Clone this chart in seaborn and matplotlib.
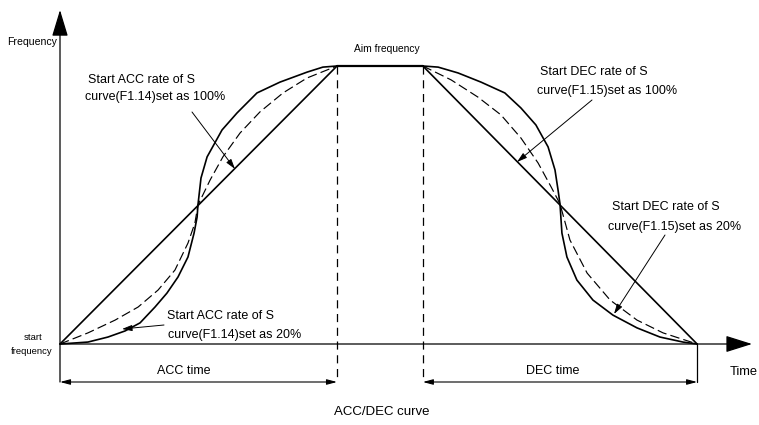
import matplotlib
matplotlib.use("Agg")
import matplotlib.pyplot as plt
import seaborn as sns

sns.set_theme(style="white")
plt.rcParams['font.family'] = ['Liberation Sans', 'DejaVu Sans']

# ---------------- data (time units, frequency %) ----------------
acc_end = 100
dec_start = 131
dec_end = 230
aim_freq = 100

acc_lin_t = [0, 100]
acc_lin_f = [0, 100]

acc_s20_t = [0, 10.1, 17.3, 23.5, 28.9, 34.3, 38.6, 42.6, 46.2, 48.4, 49.5, 49.8,
             50.9, 53.1, 58.5, 63.9, 71.1, 79.4, 89.2, 94.9, 100]
acc_s20_f = [0, 0.7, 2.5, 4.7, 7.6, 13.3, 18.3, 24.1, 31.3, 39.9, 45.7, 50.0,
             59.7, 67.3, 77.0, 83.1, 90.3, 94.2, 97.8, 99.6, 100]

acc_mid_t = [0, 10.1, 19.9, 28.2, 35.4, 41.5, 46.2, 48.7, 49.8, 54.2, 58.8, 65.0,
             72.2, 80.5, 89.2, 100]
acc_mid_f = [0, 4.0, 8.6, 13.3, 19.4, 26.6, 36.3, 43.5, 50.0, 59.0, 67.3, 75.9,
             83.5, 90.3, 95.7, 100]

dec_lin_t = [131, 230]
dec_lin_f = [100, 0]

dec_s20_t = [131, 136.5, 143.7, 152.0, 160.6, 166.4, 171.8, 176.2, 178.7, 179.8, 180.5,
             181.2, 183.0, 186.6, 192.4, 199.6, 208.3, 216.6, 224.9, 230]
dec_s20_f = [100, 99.6, 97.5, 94.2, 90.3, 84.9, 78.8, 70.9, 62.6, 55.4, 50.4,
             39.9, 31.3, 23.0, 15.8, 10.4, 5.8, 2.5, 0.7, 0]

dec_mid_t = [131, 141.2, 150.9, 159.2, 166.4, 172.6, 177.3, 180.5, 184.1, 190.3, 198.6,
             208.3, 217.7, 230]
dec_mid_f = [100, 95.0, 88.8, 82.4, 74.1, 65.1, 56.5, 50.4, 37.4, 25.5, 15.8,
             8.6, 4.0, 0]

plateau_t = [acc_end, dec_start]
plateau_f = [aim_freq, aim_freq]

# ---------------- layout helpers (pixel -> data) ----------------
OX, OY = 60.0, 344.0
SX, SY = 2.77, 2.78


def P(x, y):
    return ((x - OX) / SX, (OY - y) / SY)


fig = plt.figure(figsize=(7.59, 4.25), dpi=100)
ax = fig.add_axes([0, 0, 1, 1])
ax.set_xlim(P(0, 0)[0], P(759, 0)[0])
ax.set_ylim(P(0, 425)[1], P(0, 0)[1])
ax.axis('off')

k = 'black'
CURVE_LW = 1.2
DASH = (0, (8, 3.5))

# curves
sns.lineplot(x=acc_lin_t, y=acc_lin_f, ax=ax, color=k, lw=CURVE_LW, sort=False, estimator=None)
sns.lineplot(x=acc_s20_t, y=acc_s20_f, ax=ax, color=k, lw=CURVE_LW, sort=False, estimator=None)
sns.lineplot(x=acc_mid_t, y=acc_mid_f, ax=ax, color=k, lw=0.85, sort=False, estimator=None,
             linestyle=DASH)
sns.lineplot(x=dec_lin_t, y=dec_lin_f, ax=ax, color=k, lw=CURVE_LW, sort=False, estimator=None)
sns.lineplot(x=dec_s20_t, y=dec_s20_f, ax=ax, color=k, lw=CURVE_LW, sort=False, estimator=None)
sns.lineplot(x=dec_mid_t, y=dec_mid_f, ax=ax, color=k, lw=0.85, sort=False, estimator=None,
             linestyle=DASH)
sns.lineplot(x=plateau_t, y=plateau_f, ax=ax, color=k, lw=1.6, sort=False, estimator=None)

# dimension extension lines
dim_y = P(0, 382)[1]
ax.plot([acc_end, acc_end], [aim_freq, dim_y], color=k, lw=0.9, linestyle=(0, (6.5, 4.5)))
ax.plot([dec_start, dec_start], [aim_freq, dim_y], color=k, lw=0.9, linestyle=(0, (6.5, 4.5)))
ax.plot([dec_end, dec_end], [0, dim_y], color=k, lw=0.9)

# axes with arrows
ax.annotate('', xy=P(60, 10), xytext=(0, dim_y),
            arrowprops=dict(arrowstyle='-|>,head_length=1.65,head_width=0.5',
                            mutation_scale=10, lw=0.9, color=k, shrinkA=0, shrinkB=0))
ax.annotate('', xy=P(752, 344), xytext=(0, 0),
            arrowprops=dict(arrowstyle='-|>,head_length=1.65,head_width=0.52',
                            mutation_scale=10, lw=0.9, color=k, shrinkA=0, shrinkB=0))

# dimension arrows
dim_style = dict(arrowstyle='<|-|>,head_length=0.6,head_width=0.16', mutation_scale=10,
                 lw=0.8, color=k, shrinkA=0, shrinkB=0)
ax.annotate('', xy=(acc_end, dim_y), xytext=(0, dim_y), arrowprops=dim_style)
ax.annotate('', xy=(dec_end, dim_y), xytext=(dec_start, dim_y), arrowprops=dim_style)

# labels
ax.text(*P(184, 371), 'ACC time', fontsize=9, ha='center', va='center', color=k)
ax.text(*P(553, 371), 'DEC time', fontsize=9, ha='center', va='center', color=k)
ax.text(*P(744, 372), 'Time', fontsize=9.3, ha='center', va='center', color=k)
ax.text(*P(382, 412), 'ACC/DEC curve', fontsize=9.5, ha='center', va='center', color=k)
ax.text(*P(57, 42), 'Frequency', fontsize=7.6, ha='right', va='center', color=k)
ax.text(*P(387, 49), 'Aim frequency', fontsize=7.4, ha='center', va='center', color=k)
ax.text(*P(33, 337), 'start', fontsize=6.8, ha='center', va='center', color=k)
ax.text(*P(32, 352), 'frequency', fontsize=6.8, ha='center', va='center', color=k)

# annotations
note_arrow = dict(arrowstyle='-|>,head_length=0.6,head_width=0.18', mutation_scale=10,
                  lw=0.7, color=k, shrinkA=0, shrinkB=0)
FS = 9


def note(x1, y1, s1, x2, y2, s2, tail, head):
    ax.text(*P(x1, y1), s1, fontsize=FS, ha='left', va='center', color=k)
    ax.text(*P(x2, y2), s2, fontsize=FS, ha='left', va='center', color=k)
    ax.annotate('', xy=P(*head), xytext=P(*tail), arrowprops=note_arrow)


note(88, 80, 'Start ACC rate of S', 85, 97, 'curve(F1.14)set as 100%', (192, 112), (235, 169))
note(167, 316, 'Start ACC rate of S', 168, 335, 'curve(F1.14)set as 20%', (164, 325), (122, 329))
note(540, 72, 'Start DEC rate of S', 537, 91, 'curve(F1.15)set as 100%', (592, 100), (517, 162))
note(612, 207, 'Start DEC rate of S', 608, 227, 'curve(F1.15)set as 20%', (665, 235), (614, 314))

fig.savefig('out.png', dpi=100)
